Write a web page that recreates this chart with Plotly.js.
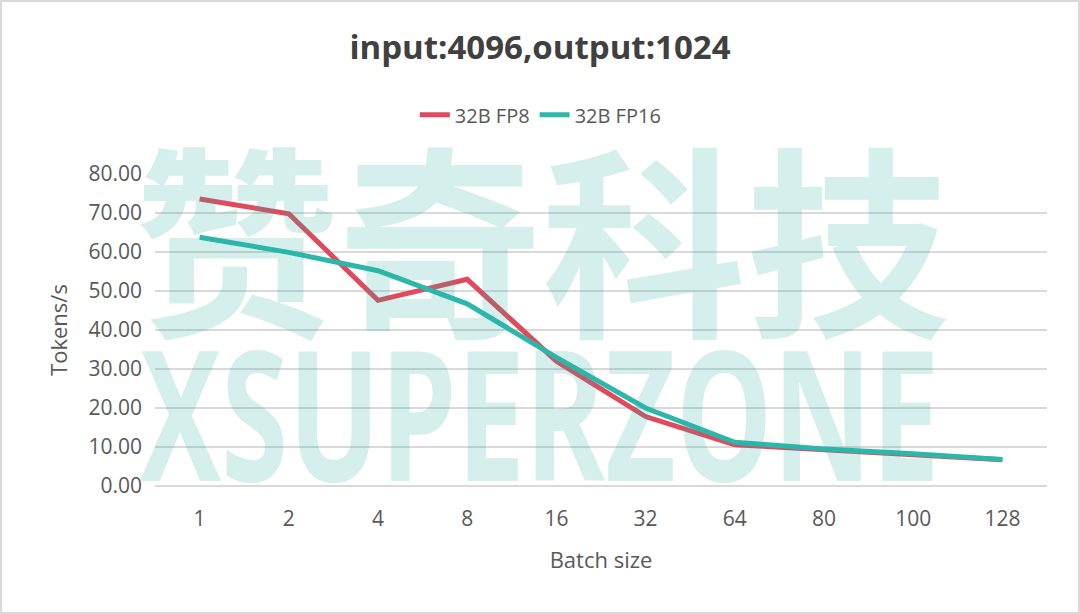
<!DOCTYPE html>
<html>
<head>
<meta charset="utf-8">
<script src="https://cdn.plot.ly/plotly-3.0.1.min.js"></script>
<style>
html,body{margin:0;padding:0;background:#fff;}
#frame{position:absolute;left:0;top:0;width:1076px;height:610px;border:2px solid #d9d9d9;pointer-events:none;}
#chart{position:absolute;left:0;top:0;width:1080px;height:614px;}
</style>
</head>
<body>
<div id="chart"></div>
<div id="frame"></div>
<script>
var batchSizes = ["1","2","4","8","16","32","64","80","100","128"];
var fp8 = [73.6, 69.8, 47.6, 53.0, 32.0, 17.8, 10.6, 9.2, 8.1, 6.7];
var fp16 = [63.8, 59.9, 55.2, 46.7, 33.0, 20.0, 11.2, 9.5, 8.3, 6.8];
var seriesNames = ["32B FP8", "32B FP16"];
var yTicks = [0,10,20,30,40,50,60,70,80];

var font = "Open Sans, sans-serif";
var wmColor = "rgba(43,176,166,0.2)";
var traces = [
  {x: batchSizes, y: fp8, name: seriesNames[0], type: "scatter", mode: "lines",
   line: {color: "#e04a5c", width: 5}},
  {x: batchSizes, y: fp16, name: seriesNames[1], type: "scatter", mode: "lines",
   line: {color: "#2bb8aa", width: 5}}
];
var layout = {
  width: 1080, height: 614,
  paper_bgcolor: "#ffffff", plot_bgcolor: "#ffffff",
  margin: {l: 155, r: 33, t: 174, b: 128},
  showlegend: true,
  legend: {orientation: "h", x: 0.432, xanchor: "center", y: 1.19, yanchor: "middle",
           font: {family: font, size: 20, color: "#595959"}, traceorder: "normal"},
  title: {text: "<b>input:4096,output:1024</b>", x: 0.5, xanchor: "center", y: 0.923, yanchor: "middle",
          font: {family: font, size: 33, color: "#404040"}},
  xaxis: {type: "category", range: [-0.5, 9.5], showgrid: false, zeroline: false,
          showline: false, ticks: "", ticklabelstandoff: 18, tickfont: {family: font, size: 21, color: "#595959"},
          title: {text: "Batch size", font: {family: font, size: 22, color: "#595959"}, standoff: 21}},
  yaxis: {range: [0, 80], tickvals: yTicks, tickformat: ".2f", showgrid: true, gridcolor: "#d9d9d9",
          gridwidth: 1.3, zeroline: true, zerolinecolor: "#d9d9d9", zerolinewidth: 1.3, showline: false, ticks: "",
          ticklabelstandoff: 12, tickfont: {family: font, size: 21, color: "#595959"},
          title: {text: "Tokens/s", font: {family: font, size: 22, color: "#595959"}, standoff: 14}},
  annotations: [
    {text: "<b>赞奇科技</b>", xref: "paper", yref: "paper", x: 0.434, y: 0.81, xanchor: "center", yanchor: "middle",
     showarrow: false, font: {family: "Noto Sans CJK SC, sans-serif", size: 204, color: wmColor}},
    {text: "<b>XSUPERZONE</b>", xref: "paper", yref: "paper", x: 0.432, y: 0.245, xanchor: "center", yanchor: "middle",
     showarrow: false, font: {family: font, size: 182, color: wmColor}}
  ]
};
Plotly.newPlot("chart", traces, layout, {displayModeBar: false, staticPlot: true}).then(function(gd){
  var texts = gd.querySelectorAll("text.annotation-text");
  texts.forEach(function(t){
    if (t.textContent.indexOf("XSUPERZONE") >= 0) {
      var w = t.getBBox().width;
      var s = 800 / w;
      t.style.transformBox = "fill-box";
      t.style.transformOrigin = "center";
      t.style.transform = "scaleX(" + s + ")";
    }
  });
});
</script>
</body>
</html>
